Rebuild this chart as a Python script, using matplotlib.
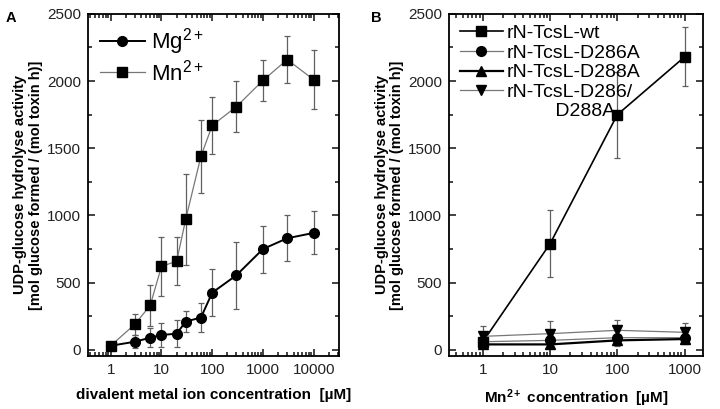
import matplotlib
matplotlib.use('Agg')
import matplotlib.pyplot as plt
from matplotlib.lines import Line2D
from matplotlib.ticker import LogLocator, NullFormatter, MultipleLocator
import numpy as np

plt.rcParams['font.family'] = ['Liberation Sans', 'DejaVu Sans']
plt.rcParams['mathtext.fontset'] = 'custom'
plt.rcParams['mathtext.rm'] = 'Liberation Sans'
plt.rcParams['mathtext.it'] = 'Liberation Sans'
plt.rcParams['mathtext.bf'] = 'Liberation Sans:bold'

# panel A: divalent metal ion concentration series
concA = [1, 3, 6, 10, 20, 30, 60, 100, 300, 1000, 3000, 10000]
mg = [30, 60, 90, 110, 120, 210, 240, 425, 555, 750, 830, 870]
mg_err = [20, 50, 70, 90, 100, 75, 110, 175, 250, 175, 170, 160]
mn = [30, 190, 330, 620, 660, 970, 1440, 1670, 1810, 2005, 2160, 2010]
mn_err = [20, 80, 150, 220, 180, 340, 270, 215, 190, 150, 175, 220]

# panel B: Mn2+ concentration series
concB = [1, 10, 100, 1000]
wt = [60, 790, 1750, 2180]
wt_err = [40, 250, 320, 220]
d286a = [60, 70, 90, 90]
d286a_err = [30, 40, 50, 40]
d288a = [40, 40, 70, 80]
d288a_err = [30, 30, 40, 40]
d286_288a = [100, 120, 145, 130]
d286_288a_err = [76, 93, 73, 68]

fig = plt.figure(figsize=(7.2, 4.09), dpi=100)
axA = fig.add_axes([0.122, 0.130, 0.349, 0.836])
axB = fig.add_axes([0.624, 0.130, 0.352, 0.836])

ylab = 'UDP-glucose hydrolyse activity\n[mol glucose formed / (mol toxin h)]'
ebc = '#606060'

def style(ax, xlim):
    ax.set_xscale('log')
    ax.set_xlim(*xlim)
    ax.set_ylim(-45, 2500)
    ax.yaxis.set_major_locator(MultipleLocator(500))
    ax.yaxis.set_minor_locator(MultipleLocator(250))
    ax.xaxis.set_major_locator(LogLocator(base=10))
    ax.xaxis.set_minor_locator(LogLocator(base=10, subs=np.arange(2, 10)))
    ax.xaxis.set_minor_formatter(NullFormatter())
    ax.xaxis.set_major_formatter(plt.FuncFormatter(lambda v, p: '%d' % round(v)))
    ax.tick_params(which='both', direction='in', top=True, right=True, width=1.2,
                   labelsize=11, colors='#222222', pad=5)
    ax.tick_params(which='major', length=5)
    ax.tick_params(which='minor', length=3)
    for s in ax.spines.values():
        s.set_linewidth(1.3)
    ax.set_ylabel(ylab, fontsize=10.5, fontweight='bold', labelpad=3, linespacing=1.15)

def series(ax, x, y, err, lc, lw, mk, ms):
    ax.errorbar(x, y, yerr=err, color=lc, lw=lw, marker=mk, ms=ms, mfc='black', mec='black',
                ecolor=ebc, elinewidth=0.9, capsize=2.5, capthick=0.9)
    return Line2D([], [], color=lc, lw=lw, marker=mk, ms=ms, mfc='black', mec='black')

# ---- panel A
hA = [series(axA, concA, mg, mg_err, 'black', 1.4, 'o', 7),
      series(axA, concA, mn, mn_err, '#777777', 0.9, 's', 6.5)]
style(axA, (10 ** -0.45, 10 ** 4.5))
axA.set_xlabel('divalent metal ion concentration  [µM]', fontsize=11, fontweight='bold', labelpad=8)
axA.legend(hA, ['Mg$^{2+}$', 'Mn$^{2+}$'], loc='upper left', frameon=False, fontsize=16,
           handlelength=2.0, handletextpad=0.3, borderaxespad=0.15, labelspacing=0.1)

# ---- panel B
hB = [series(axB, concB, wt, wt_err, 'black', 1.2, 's', 6.5),
      series(axB, concB, d286a, d286a_err, '#777777', 0.9, 'o', 7),
      series(axB, concB, d288a, d288a_err, 'black', 1.6, '^', 7.5),
      series(axB, concB, d286_288a, d286_288a_err, '#777777', 0.9, 'v', 7.5),
      Line2D([], [], lw=0)]
style(axB, (10 ** -0.5, 10 ** 3.27))
axB.set_xlabel('Mn$^{\\mathbf{2+}}$ concentration  [µM]', fontsize=11, fontweight='bold', labelpad=8)
axB.legend(hB, ['rN-TcsL-wt', 'rN-TcsL-D286A', 'rN-TcsL-D288A', 'rN-TcsL-D286/',
                '         D288A'],
           loc='upper left', frameon=False, fontsize=14, handlelength=2.2,
           handletextpad=0.2, borderaxespad=0.15, labelspacing=0.1)

fig.text(0.008, 0.946, 'A', fontsize=10.5, fontweight='bold')
fig.text(0.515, 0.946, 'B', fontsize=10.5, fontweight='bold')

fig.savefig('out.png', dpi=100)
